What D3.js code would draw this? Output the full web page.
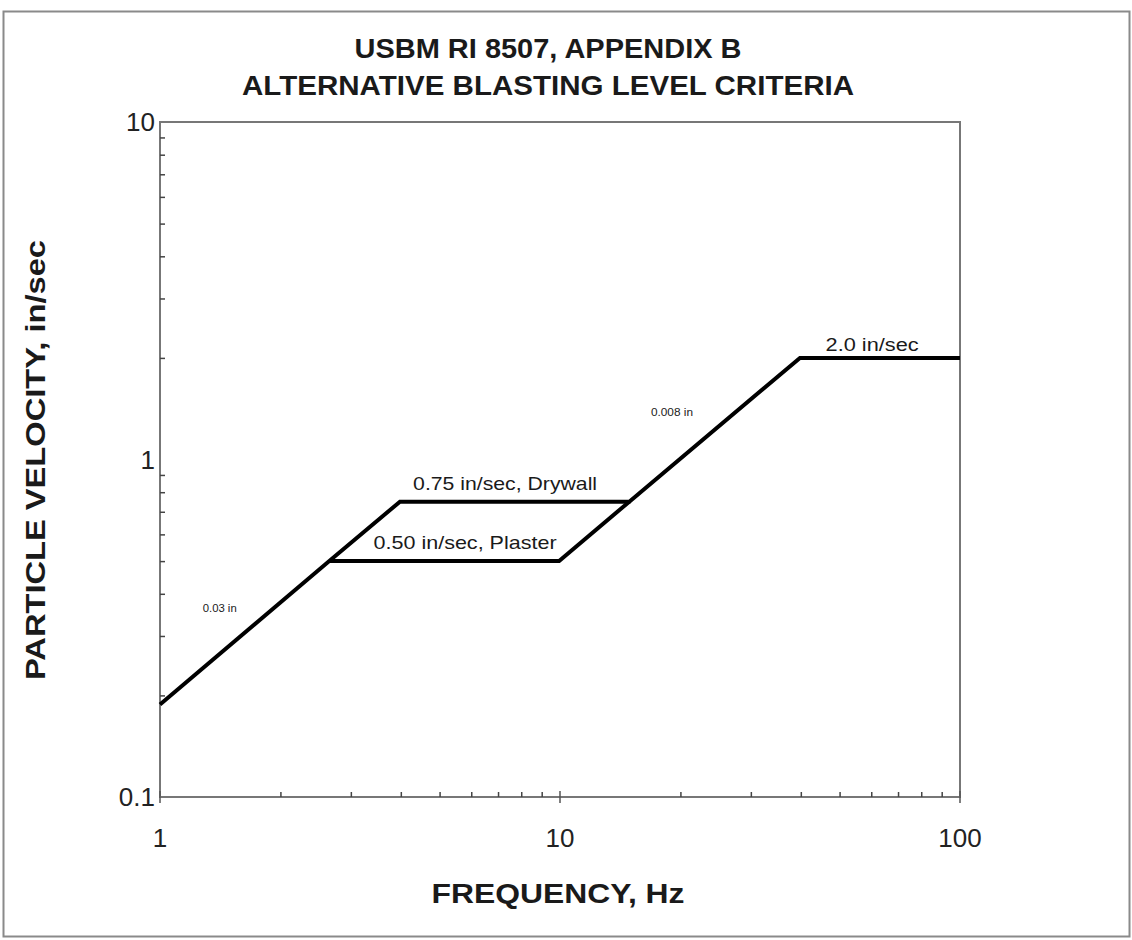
<!DOCTYPE html>
<html><head><meta charset="utf-8">
<script src="https://cdn.jsdelivr.net/npm/d3@7"></script>
<style>body{margin:0;background:#fff}svg{display:block}</style>
</head><body><svg id="c" width="1132" height="940"></svg>
<script>
// Data
const titleLines = ["USBM RI 8507, APPENDIX B", "ALTERNATIVE BLASTING LEVEL CRITERIA"];
const xLabel = "FREQUENCY, Hz";
const yLabel = "PARTICLE VELOCITY, in/sec";
const xTickValues = [1, 10, 100];
const xTickLabels = ["1", "10", "100"];
const yTickValues = [0.1, 1, 10];
const yTickLabels = ["0.1", "1", "10"];
// Drywall criterion (upper envelope): frequency (Hz), velocity (in/sec)
const drywallFreq = [1, 2.65, 3.98, 14.9, 39.8, 100];
const drywallVel  = [0.188, 0.5, 0.75, 0.75, 2.0, 2.0];
// Plaster criterion branch
const plasterFreq = [2.65, 9.95, 14.9];
const plasterVel  = [0.5, 0.5, 0.75];
// Annotations: text, anchor frequency, anchor velocity
const annText = ["0.75 in/sec, Drywall", "0.50 in/sec, Plaster", "2.0 in/sec", "0.03 in", "0.008 in"];
const annFreq = [7.29, 5.79, 60.3, 1.41, 19.05];
const annVel  = [0.812, 0.543, 2.10, 0.353, 1.346];

// Styling (kept apart from data)
const FONT = "'Liberation Sans', Arial, sans-serif";
const annStyle = [
  {size: 19, len: 184}, {size: 19, len: 183}, {size: 18, len: 93}, {size: 10, len: 34}, {size: 10, len: 42}
];

const svg = d3.select("#c");
const L = 160, R = 960, T = 122, B = 797;
const x = d3.scaleLog().domain([1, 100]).range([L, R]);
const y = d3.scaleLog().domain([0.1, 10]).range([B, T]);

// page frame
svg.append("rect").attr("x", 3.5).attr("y", 11.5).attr("width", 1126).attr("height", 925)
  .attr("fill", "none").attr("stroke", "#8a8a8a").attr("stroke-width", 2);

// title
const titleLen = [387, 612];
svg.selectAll("text.title").data(titleLines).join("text")
  .attr("x", 548).attr("y", (d, i) => 58 + i * 37)
  .attr("text-anchor", "middle")
  .attr("textLength", (d, i) => titleLen[i]).attr("lengthAdjust", "spacingAndGlyphs")
  .style("font-family", FONT)
  .style("font-weight", "bold").style("font-size", "27px").attr("fill", "#1a1a1a")
  .text(d => d);

// plot frame
svg.append("rect").attr("x", L).attr("y", T).attr("width", R - L).attr("height", B - T)
  .attr("fill", "none").attr("stroke", "#777").attr("stroke-width", 2);

// minor ticks
const minorX = [];
[1, 10].forEach(d => { for (let k = 2; k <= 9; k++) minorX.push(d * k); });
const minorY = [];
[0.1, 1].forEach(d => { for (let k = 2; k <= 9; k++) minorY.push(+(d * k).toFixed(2)); });

const gx = svg.append("g").attr("transform", `translate(0,${B})`)
  .call(d3.axisBottom(x).tickValues(minorX).tickSize(-5).tickFormat(""));
gx.select(".domain").remove();
gx.selectAll("line").attr("stroke", "#444").attr("stroke-width", 1.5);

const gy = svg.append("g").attr("transform", `translate(${L},0)`)
  .call(d3.axisLeft(y).tickValues(minorY).tickSize(-5).tickFormat(""));
gy.select(".domain").remove();
gy.selectAll("line").attr("stroke", "#444").attr("stroke-width", 1.5);

// major ticks (crossing)
svg.selectAll("line.mx").data(xTickValues).join("line")
  .attr("x1", d => x(d)).attr("x2", d => x(d)).attr("y1", B - 6).attr("y2", B + 6)
  .attr("stroke", "#555").attr("stroke-width", 1.5);

// tick labels
svg.selectAll("text.xt").data(xTickValues).join("text")
  .attr("x", d => x(d)).attr("y", B + 50).attr("text-anchor", "middle")
  .style("font-family", FONT).style("font-size", "26px").attr("fill", "#222")
  .text((d, i) => xTickLabels[i]);
svg.selectAll("text.yt").data(yTickValues).join("text")
  .attr("x", L - 5).attr("y", d => y(d) + 9).attr("text-anchor", "end")
  .style("font-family", FONT).style("font-size", "26px").attr("fill", "#222")
  .text((d, i) => yTickLabels[i]);

// axis titles
svg.append("text").attr("x", 558).attr("y", 903).attr("text-anchor", "middle")
  .attr("textLength", 253).attr("lengthAdjust", "spacingAndGlyphs")
  .style("font-family", FONT).style("font-weight", "bold").style("font-size", "27px")
  .attr("fill", "#1a1a1a").text(xLabel);
svg.append("text").attr("transform", "translate(45,460) rotate(-90)").attr("text-anchor", "middle")
  .attr("textLength", 440).attr("lengthAdjust", "spacingAndGlyphs")
  .style("font-family", FONT).style("font-weight", "bold").style("font-size", "27px")
  .attr("fill", "#1a1a1a").text(yLabel);

// lines
const line = d3.line().x(d => x(d[0])).y(d => y(d[1]));
const dry = drywallFreq.map((f, i) => [f, drywallVel[i]]);
const pla = plasterFreq.map((f, i) => [f, plasterVel[i]]);
[dry, pla].forEach(p => svg.append("path").attr("d", line(p)).attr("fill", "none")
  .attr("stroke", "#000").attr("stroke-width", 4).attr("stroke-linejoin", "miter"));

// annotations
svg.selectAll("text.ann").data(annText).join("text")
  .attr("x", (d, i) => x(annFreq[i])).attr("y", (d, i) => y(annVel[i]))
  .attr("text-anchor", "middle")
  .attr("textLength", (d, i) => annStyle[i].len).attr("lengthAdjust", "spacingAndGlyphs")
  .style("font-family", FONT)
  .style("font-size", (d, i) => annStyle[i].size + "px").attr("fill", "#1a1a1a")
  .text(d => d);
</script></body></html>
